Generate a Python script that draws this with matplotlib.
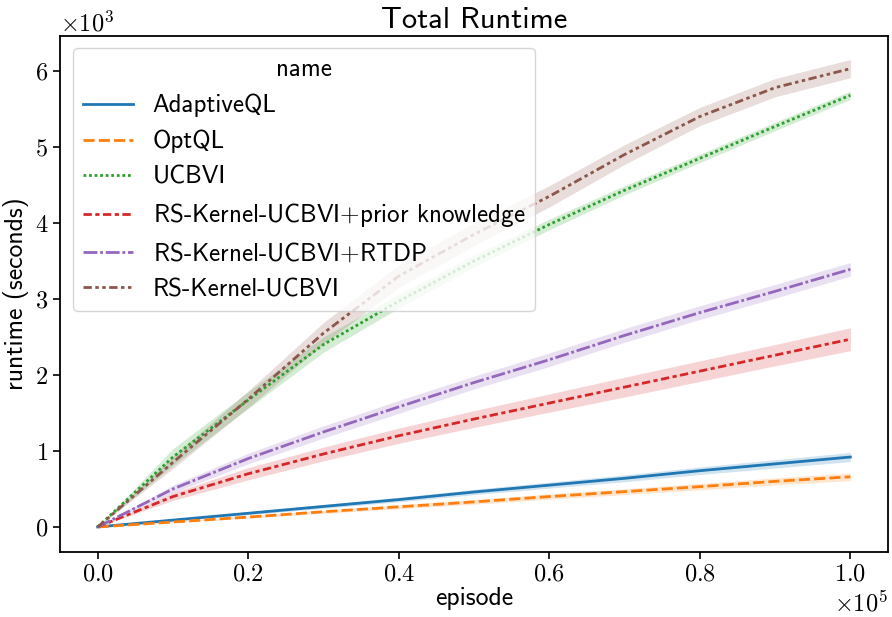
import matplotlib
matplotlib.use("Agg")
import matplotlib.pyplot as plt
import numpy as np
from matplotlib.ticker import ScalarFormatter

plt.rcParams['font.family'] = ['cmss10', 'DejaVu Sans']
plt.rcParams['mathtext.fontset'] = 'cm'
plt.rcParams['axes.unicode_minus'] = False
plt.rcParams['axes.formatter.use_mathtext'] = True

episodes = [0, 10000, 20000, 30000, 40000, 50000, 60000, 70000, 80000, 90000, 100000]

names = ["AdaptiveQL", "OptQL", "UCBVI", "RS-Kernel-UCBVI$+$prior knowledge",
         "RS-Kernel-UCBVI$+$RTDP", "RS-Kernel-UCBVI"]

adaptiveql = [0, 90, 180, 270, 360, 460, 550, 640, 740, 830, 920]
adaptiveql_ci = [0, 10, 20, 25, 30, 35, 40, 45, 50, 55, 60]
optql = [0, 65, 130, 200, 265, 330, 400, 465, 530, 600, 660]
optql_ci = [0, 8, 15, 20, 25, 30, 35, 38, 42, 46, 50]
ucbvi = [0, 920, 1670, 2400, 2970, 3500, 3980, 4430, 4850, 5270, 5680]
ucbvi_ci = [0, 110, 110, 100, 90, 80, 70, 60, 55, 55, 55]
rs_prior = [0, 400, 700, 960, 1200, 1420, 1630, 1840, 2050, 2260, 2470]
rs_prior_ci = [0, 50, 80, 90, 100, 110, 120, 130, 135, 140, 150]
rs_rtdp = [0, 500, 900, 1250, 1580, 1900, 2200, 2520, 2820, 3100, 3390]
rs_rtdp_ci = [0, 50, 70, 80, 85, 85, 90, 90, 90, 90, 90]
rs_kernel = [0, 850, 1680, 2550, 3300, 3850, 4350, 4900, 5400, 5780, 6030]
rs_kernel_ci = [0, 80, 110, 140, 150, 150, 140, 130, 120, 120, 120]

series = [adaptiveql, optql, ucbvi, rs_prior, rs_rtdp, rs_kernel]
cis = [adaptiveql_ci, optql_ci, ucbvi_ci, rs_prior_ci, rs_rtdp_ci, rs_kernel_ci]
colors = ["#1f77b4", "#ff7f0e", "#2ca02c", "#d62728", "#9467bd", "#8c564b"]
dashes = [None, (4, 1.5), (1, 1), (3, 1.25, 1.5, 1.25), (5, 1, 1, 1),
          (3, 1.25, 1.25, 1.25, 1.25, 1.25)]

fig = plt.figure(figsize=(8.92, 6.17), dpi=100)
ax = fig.add_axes([0.0673, 0.1053, 0.9282, 0.8364])

x = np.array(episodes)
for nm, y, ci, c, d in zip(names, series, cis, colors, dashes):
    y = np.array(y, float)
    ci = np.array(ci, float)
    ln, = ax.plot(x, y, color=c, lw=2.0, label=nm)
    if d is not None:
        ln.set_dashes(d)
    ax.fill_between(x, y - ci, y + ci, color=c, alpha=0.2, lw=0)

ax.set_xlim(-5000, 105000)
ax.set_ylim(-330, 6460)
ax.set_xticks([0, 20000, 40000, 60000, 80000, 100000])
ax.set_yticks([0, 1000, 2000, 3000, 4000, 5000, 6000])
for axis in (ax.xaxis, ax.yaxis):
    f = ScalarFormatter(useMathText=True)
    f.set_powerlimits((0, 0))
    axis.set_major_formatter(f)
    axis.get_offset_text().set_fontsize(17.5)
    axis.get_offset_text().set_family('cmr10')
ax.tick_params(labelsize=17.5, labelfontfamily='cmr10', length=5, width=1.2)
for s in ax.spines.values():
    s.set_linewidth(1.3)

ax.set_title("Total Runtime", fontsize=22)
ax.set_xlabel("episode", fontsize=18.5, labelpad=1)
ax.set_ylabel("runtime (seconds)", fontsize=18.5, labelpad=4)

leg = ax.legend(title="name", loc="upper left", fontsize=18, title_fontsize=18,
                framealpha=0.8, handlelength=2.0)

fig.savefig("out.png", dpi=100)
